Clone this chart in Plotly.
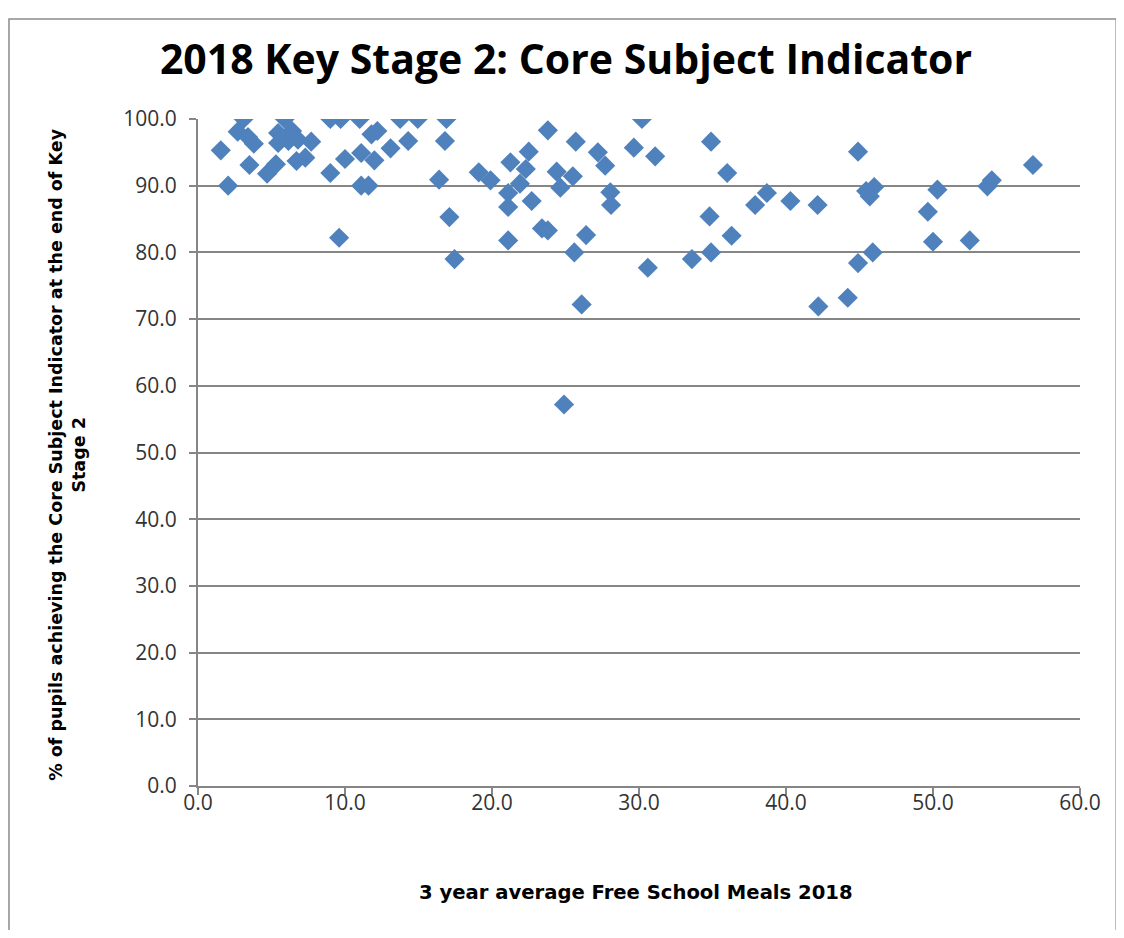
import plotly.graph_objects as go

# 3 year average FSM (%) and % achieving Core Subject Indicator
fsm = [
    3.1, 1.55, 2.05, 2.7, 3.4, 3.8, 3.5, 4.7, 5.3, 5.9, 5.45, 6.4, 5.45, 6.15, 6.8,
    7.7, 6.7, 7.3,
    9.0, 9.7, 11.0, 13.75, 14.95, 11.8, 12.2, 10.0, 11.1, 12.0, 13.1, 14.3, 9.0,
    11.1, 11.6, 16.4, 16.8, 16.9, 9.6, 17.1, 17.45,
    19.1, 19.9, 21.25, 22.5, 22.3, 21.9, 21.1, 21.1, 22.7, 21.1, 23.4, 23.8, 23.8,
    24.4, 25.5, 24.65, 25.7, 27.2, 27.7, 28.05, 28.1, 26.4, 25.6, 24.9, 26.1,
    30.2, 29.65, 31.1, 30.6,
    33.6, 34.8, 34.9, 34.9, 36.0, 36.3, 37.9, 38.7, 40.3, 42.15, 42.2, 44.2,
    44.9, 45.45, 46.0, 45.7, 45.9, 44.9, 49.65, 50.3, 50.0, 52.5, 53.7, 54.0, 56.8,
]
csi = [
    100.0, 95.3, 90.0, 98.1, 97.3, 96.3, 93.1, 91.8, 93.2, 100.0, 97.9, 98.2, 96.4, 96.7, 96.9,
    96.6, 93.7, 94.2,
    100.0, 100.0, 100.0, 100.0, 100.0, 97.7, 98.2, 94.0, 94.9, 93.8, 95.6, 96.7, 91.9,
    90.0, 90.0, 90.9, 96.7, 100.0, 82.2, 85.3, 79.0,
    92.0, 90.8, 93.5, 95.1, 92.5, 90.3, 88.9, 86.8, 87.7, 81.8, 83.6, 83.3, 98.3,
    92.1, 91.4, 89.7, 96.6, 95.0, 93.0, 89.0, 87.1, 82.6, 80.0, 57.2, 72.2,
    100.0, 95.7, 94.4, 77.7,
    79.0, 85.4, 80.0, 96.6, 91.9, 82.5, 87.1, 88.9, 87.7, 87.1, 71.9, 73.2,
    95.1, 89.2, 89.8, 88.4, 80.0, 78.4, 86.1, 89.4, 81.6, 81.8, 89.9, 90.8, 93.1,
]

x_ticks = [0, 10, 20, 30, 40, 50, 60]
y_ticks = [0, 10, 20, 30, 40, 50, 60, 70, 80, 90, 100]

sans = '"Open Sans", sans-serif'
wide = '"DejaVu Sans", Verdana, sans-serif'

fig = go.Figure()

fig.add_trace(
    go.Scatter(
        x=fsm,
        y=csi,
        mode='markers',
        marker=dict(symbol='diamond', size=15.5, color='#4F81BD',
                    line=dict(width=0)),
        showlegend=False,
    )
)

# chart border (Excel chart area)
fig.add_shape(
    type='rect', xref='paper', yref='paper',
    x0=-0.2143, x1=1.041, y0=-0.3, y1=1.150,
    line=dict(color='#8C8C8C', width=1.5),
    fillcolor='rgba(0,0,0,0)', layer='below',
)

# axis titles
fig.add_annotation(
    text='<b>% of pupils achieving the Core Subject Indicator at the end of Key<br>Stage 2</b>',
    xref='paper', yref='paper', x=(68 - 198) / 882, y=(786 - 455) / 666.7,
    xanchor='center', yanchor='middle', textangle=-90, showarrow=False,
    font=dict(family=wide, size=17.5, color='black'),
)
fig.add_annotation(
    text='<b>3 year average Free School Meals 2018</b>',
    xref='paper', yref='paper', x=(636 - 198) / 882, y=(786 - 892) / 666.7,
    xanchor='center', yanchor='middle', showarrow=False,
    font=dict(family=wide, size=19.6, color='black'),
)

fig.update_layout(
    width=1116,
    height=922,
    title=dict(
        text='<b>2018 Key Stage 2: Core Subject Indicator</b>',
        x=(566 - 8) / 1116, xanchor='center', y=1 - (60 - 8) / 922, yanchor='middle',
        font=dict(family=sans, size=41, color='black'),
    ),
    margin=dict(l=190, r=44, t=111, b=144),
    plot_bgcolor='white',
    paper_bgcolor='white',
    font=dict(family=sans, color='#404040'),
)

fig.update_xaxes(
    range=[0, 60],
    tickvals=x_ticks,
    ticktext=[f'{v:.1f}' for v in x_ticks],
    tickfont=dict(size=21, color='#333333'),
    showgrid=False,
    showline=True, linecolor='#868686', linewidth=2,
    ticks='outside', ticklen=7, tickcolor='#868686', tickwidth=2,
    ticklabelstandoff=-10,
    zeroline=False,
)

fig.update_yaxes(
    range=[0, 100],
    tickvals=y_ticks,
    ticktext=[f'{v:.1f}' for v in y_ticks],
    tickfont=dict(size=21, color='#333333'),
    showgrid=True, gridcolor='#868686', gridwidth=2,
    showline=True, linecolor='#868686', linewidth=2,
    ticks='outside', ticklen=7, tickcolor='#868686', tickwidth=2,
    ticklabelstandoff=8,
    zeroline=False,
)

fig.write_html('out.html')
